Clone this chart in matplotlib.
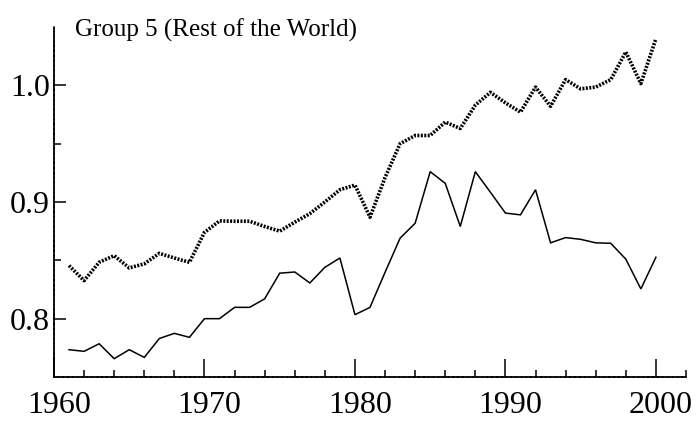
import matplotlib
matplotlib.use("Agg")
import matplotlib.pyplot as plt
import matplotlib.transforms as mtransforms
from matplotlib.ticker import MultipleLocator, FixedLocator

years = list(range(1961, 2001))
solid_series = [0.7734, 0.772, 0.7785, 0.7657, 0.7734, 0.7668, 0.783, 0.7874, 0.784, 0.800,
                0.800, 0.8097, 0.8097, 0.817, 0.839, 0.840, 0.8306, 0.844, 0.852, 0.8034,
                0.8097, 0.8397, 0.869, 0.8818, 0.926, 0.916, 0.879, 0.926, 0.9084, 0.8905,
                0.889, 0.9105, 0.865, 0.8695, 0.868, 0.865, 0.8646, 0.851, 0.8255, 0.8526]
dotted_series = [0.8455, 0.8326, 0.8483, 0.854, 0.8435, 0.847, 0.856, 0.852, 0.8483, 0.874,
                 0.8838, 0.8835, 0.8835, 0.879, 0.875, 0.8827, 0.890, 0.900, 0.9105, 0.9145,
                 0.887, 0.921, 0.950, 0.957, 0.957, 0.9685, 0.963, 0.983, 0.994, 0.985,
                 0.977, 0.9985, 0.982, 1.0049, 0.997, 0.9985, 1.0049, 1.0286, 1.0015, 1.040]
title = "Group 5 (Rest of the World)"
x_major = [1960, 1970, 1980, 1990, 2000]
y_major = [0.8, 0.9, 1.0]
y_minor = [0.85, 0.95]

plt.rcParams['font.family'] = ['Liberation Serif', 'DejaVu Serif']

fig = plt.figure(figsize=(7.0, 4.34), dpi=100)
ax = fig.add_axes([54/700, 1-377/434, (686-54)/700, (377-27)/434])

ax.plot(years, solid_series, color='black', lw=1.1, solid_joinstyle='miter')
ax.plot(years, dotted_series, color='black', lw=2.6, linestyle=(0, (0.55, 0.4)))

ax.set_xlim(1960, 2002)
ax.set_ylim(0.75, 1.05)

ax.xaxis.set_major_locator(FixedLocator(x_major))
ax.xaxis.set_minor_locator(MultipleLocator(2))
ax.yaxis.set_major_locator(FixedLocator(y_major))
ax.yaxis.set_minor_locator(FixedLocator(y_minor))
ax.set_xticklabels([str(v) for v in x_major])
ax.set_yticklabels([f"{v:.1f}" for v in y_major])

ax.tick_params(axis='x', which='major', direction='in', length=13, width=1.1,
               labelsize=23, pad=10)
ax.tick_params(axis='x', which='minor', direction='in', length=5, width=1.1)
ax.tick_params(axis='y', which='major', direction='in', length=8.6, width=1.1,
               labelsize=23, pad=3)
ax.tick_params(axis='y', which='minor', direction='in', length=5, width=1.1)

offset = mtransforms.ScaledTranslation(5/100, 0, fig.dpi_scale_trans)
for lbl in ax.get_xticklabels():
    lbl.set_transform(lbl.get_transform() + offset)

for side in ('top', 'right'):
    ax.spines[side].set_visible(False)
for side in ('left', 'bottom'):
    ax.spines[side].set_linewidth(1.3)
    ax.spines[side].set_linestyle((0, (2.0, 0.7)))

fig.text(75/700, 1-37/434, title, fontsize=18, ha='left', va='baseline')

fig.savefig("out.png", dpi=100)
